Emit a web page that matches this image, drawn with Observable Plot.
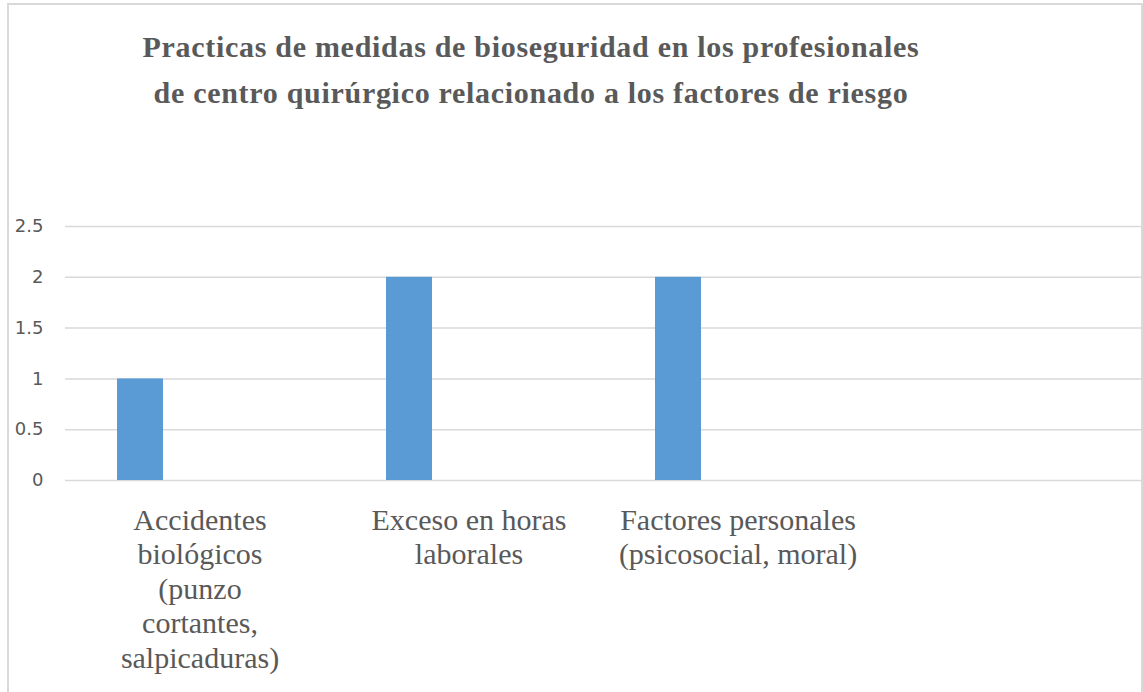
<!DOCTYPE html>
<html>
<head>
<meta charset="utf-8">
<script src="https://cdn.jsdelivr.net/npm/d3@7"></script>
<script src="https://cdn.jsdelivr.net/npm/@observablehq/plot@0.6"></script>
<style>
  html, body { margin: 0; padding: 0; background: #ffffff; width: 1143px; height: 692px; overflow: hidden; }
  #frame { position: absolute; left: 7px; top: 3px; width: 1132px; height: 720px; border: 2px solid #d9d9d9; box-sizing: content-box; }
  #title { position: absolute; left: 0; top: 24px; width: 1062px; text-align: center;
           font-family: "Liberation Serif", "Times New Roman", serif; font-weight: bold;
           font-size: 30px; letter-spacing: 0.7px; line-height: 46px; color: #595959; }
  #chart { position: absolute; left: 0; top: 150px; }
</style>
</head>
<body>
<div id="frame"></div>
<div id="title">Practicas de medidas de bioseguridad en los profesionales<br>de centro quirúrgico relacionado a los factores de riesgo</div>
<div id="chart"></div>
<script>
const categories = [
  "Accidentes\nbiológicos\n(punzo\ncortantes,\nsalpicaduras)",
  "Exceso en horas\nlaborales",
  "Factores personales\n(psicosocial, moral)",
  ""
];
const counts = [1, 2, 2, null];
const series = ["Serie 1", "Serie 2", "Serie 3"];
const yTicks = [0, 0.5, 1, 1.5, 2, 2.5];

const data = categories.map((c, i) => ({category: c, series: series[0], value: counts[i]}));

const plot = Plot.plot({
  width: 1143,
  height: 542,
  marginLeft: 65,
  marginRight: 2,
  marginTop: 76,
  marginBottom: 212,
  style: {color: "#595959", background: "transparent", overflow: "visible"},
  fx: {domain: categories, padding: 0, axis: null, label: null},
  x: {domain: series, paddingInner: 0.215, paddingOuter: 0.878, axis: null},
  y: {domain: [0, 2.5], axis: null},
  marks: [
    Plot.gridY(yTicks, {stroke: "#d9d9d9", strokeOpacity: 1, strokeWidth: 1.5}),
    Plot.barY(data, {fx: "category", x: "series", y: "value", fill: "#5b9bd5"}),
    Plot.axisY(yTicks, {tickSize: 0, tickPadding: 22, fontSize: 18, fontFamily: "DejaVu Sans", label: null, tickFormat: d3.format("")}),
    Plot.axisFx({anchor: "bottom", tickSize: 0, tickPadding: 25, fontSize: 30, fontFamily: "Liberation Serif", lineHeight: 1.15, label: null})
  ]
});
document.getElementById("chart").appendChild(plot);
</script>
</body>
</html>
